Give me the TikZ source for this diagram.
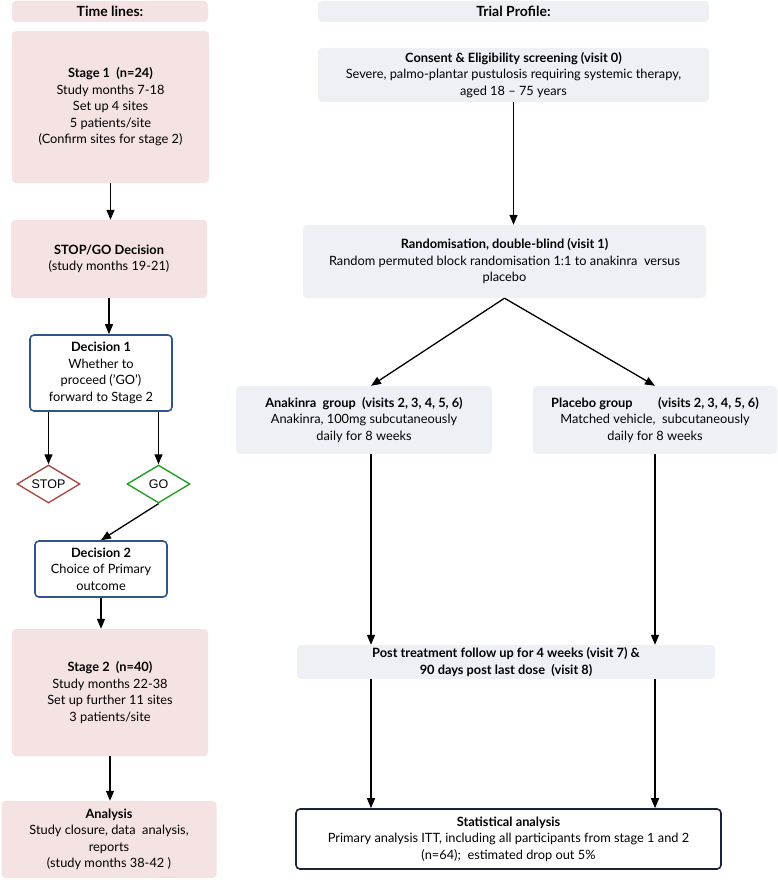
\documentclass[tikz,border=0pt]{standalone}
\usepackage{fontspec}
\setmainfont{Lato}
\newfontfamily\arialfont{Liberation Sans}
\usetikzlibrary{arrows.meta,shapes.geometric}
\definecolor{pinkfill}{RGB}{245,227,227}
\definecolor{greyfill}{RGB}{237,241,246}
\definecolor{decblue}{RGB}{47,85,140}
\definecolor{stopred}{RGB}{169,74,68}
\definecolor{gogreen}{RGB}{34,160,34}
\definecolor{statnavy}{RGB}{25,35,55}
\begin{document}
\begin{tikzpicture}[x=1pt,y=-1pt,
  every node/.style={font=\fontsize{12.8}{16.5}\selectfont,align=center,inner sep=2pt},
  pinkbox/.style={fill=pinkfill,rounded corners=4pt},
  greybox/.style={fill=greyfill,rounded corners=4pt},
  headbox/.style={font=\fontsize{14}{16}\selectfont\bfseries},
  decbox/.style={draw=decblue,line width=1.6pt,rounded corners=4pt,fill=white},
  choice/.style={diamond,draw,line width=1.4pt,aspect=1.66,inner sep=0pt,minimum width=63pt,minimum height=38pt,font=\arialfont\fontsize{12.5}{14}\selectfont},
  arr/.style={-{Triangle[length=10pt,width=8pt]},line width=1.3pt}]
\path[use as bounding box] (0,0) rectangle (778,880);
% time lines
\node[pinkbox,headbox,minimum width=196pt,minimum height=21pt] (head1) at (110,11.5) {Time lines:};
\node[pinkbox,minimum width=197pt,minimum height=152pt] (stage1) at (110.5,107) {\textbf{Stage 1\ \ (n=24)}\\Study months 7-18\\Set up 4 sites\\5 patients/site\\(Confirm sites for stage 2)};
\node[pinkbox,minimum width=196pt,minimum height=78pt] (stopgo) at (109,259) {\textbf{STOP/GO Decision}\\(study months 19-21)};
\node[decbox,minimum width=142pt,minimum height=76pt] (dec1) at (101,373) {\textbf{Decision 1}\\Whether to\\proceed ('GO')\\forward to Stage 2};
\node[choice,draw=stopred] (stop) at (48.5,484) {STOP};
\node[choice,draw=gogreen] (go) at (158.5,484) {GO};
\node[decbox,minimum width=132pt,minimum height=56pt] (dec2) at (101,569) {\textbf{Decision 2}\\Choice of Primary\\outcome};
\node[pinkbox,minimum width=196pt,minimum height=127pt] (stage2) at (110,692.5) {\textbf{Stage 2\ \ (n=40)}\\Study months 22-38\\Set up further 11 sites\\3 patients/site};
\node[pinkbox,minimum width=215pt,minimum height=77pt] (analysis) at (109,839.5) {\textbf{Analysis}\\Study closure, data\ \ analysis,\\reports\\(study months 38-42 )};
\draw[arr] (stage1.south) -- (stage1.south |- stopgo.north);
\draw[arr] (stopgo.south) -- (stopgo.south |- dec1.north);
\draw[arr] (dec1.south -| stop) -- (stop.north);
\draw[arr] (dec1.south -| go) -- (go.north);
\draw[arr] (go.south) -- (dec2.north);
\draw[arr] (dec2.south) -- (dec2.south |- stage2.north);
\draw[arr] (stage2.south) -- (stage2.south |- analysis.north);
% trial profile
\node[greybox,headbox,minimum width=391pt,minimum height=21pt] (head2) at (513.5,11.5) {Trial Profile:};
\node[greybox,minimum width=391pt,minimum height=54pt] (consent) at (513.5,75) {\textbf{Consent \& Eligibility screening (visit 0)}\\Severe, palmo-plantar pustulosis requiring systemic therapy,\\aged 18 -- 75 years};
\node[greybox,minimum width=403pt,minimum height=73pt] (rand) at (504.5,261.5) {\textbf{Randomisation, double-blind (visit 1)}\\Random permuted block randomisation 1:1 to anakinra\ \ versus\\placebo};
\node[greybox,minimum width=256pt,minimum height=68pt] (anak) at (364,420) {\textbf{Anakinra\ \ group\ \ (visits 2, 3, 4, 5, 6)}\\Anakinra, 100mg subcutaneously\\daily for 8 weeks};
\node[greybox,minimum width=244pt,minimum height=68pt] (plac) at (655,420) {\textbf{Placebo group\hspace{2em}(visits 2, 3, 4, 5, 6)}\\Matched vehicle,\ \ subcutaneously\\daily for 8 weeks};
\node[greybox,minimum width=418pt,minimum height=34pt] (post) at (506,662) {\textbf{Post treatment follow up for 4 weeks (visit 7) \&}\\\textbf{90 days post last dose\ \ (visit 8)}};
\node[draw=statnavy,line width=1.6pt,rounded corners=4pt,minimum width=425pt,minimum height=60pt] (stats) at (508.5,839) {\textbf{Statistical analysis}\\Primary analysis ITT, including all participants from stage 1 and 2\\(n=64);\ \ estimated drop out 5\%};
\draw[arr] (consent.south) -- (consent.south |- rand.north);
\draw[arr] (rand.south) -- ([xshift=7pt]anak.north);
\draw[arr] (rand.south) -- (plac.north);
\draw[arr] ([xshift=7pt]anak.south) -- ([xshift=7pt]anak.south |- post.north);
\draw[arr] (plac.south) -- (plac.south |- post.north);
\draw[arr] ([xshift=7pt]anak.south |- post.south) -- ([xshift=7pt]anak.south |- stats.north);
\draw[arr] (plac.south |- post.south) -- (plac.south |- stats.north);
\end{tikzpicture}
\end{document}
